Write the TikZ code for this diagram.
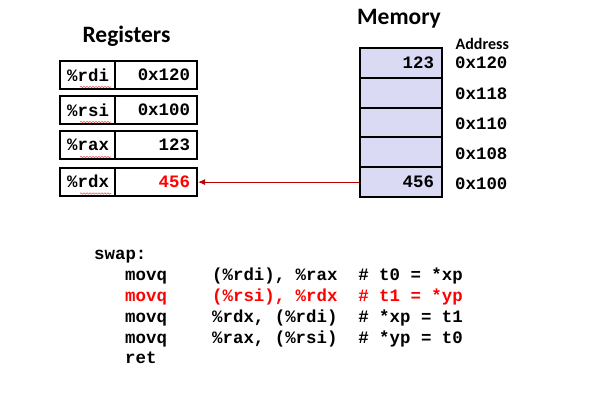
\documentclass[tikz,border=0pt]{standalone}
\usepackage{fontspec}
\setmainfont{Carlito}
\newfontfamily\cour{Liberation Mono}
\usetikzlibrary{arrows.meta,decorations.pathmorphing}
\definecolor{memfill}{RGB}{218,218,244}
\definecolor{arrowred}{RGB}{192,0,0}
\definecolor{squig}{RGB}{235,90,90}
\tikzset{
  codefont/.style={font=\cour\bfseries\fontsize{17.4}{20}\selectfont},
  regname/.style={draw, line width=2pt, minimum height=28pt, text width=43pt, inner xsep=6pt, inner ysep=0pt, align=right, codefont},
  regval/.style={draw, line width=2pt, minimum height=28pt, text width=68pt, inner xsep=7pt, inner ysep=0pt, align=right, codefont},
  memcell/.style={draw, line width=2pt, fill=memfill, minimum height=29.8pt, text width=66pt, inner xsep=8pt, inner ysep=0pt, align=right, codefont},
  addr/.style={anchor=west, inner sep=0pt, codefont},
  codeline/.style={anchor=base west, inner sep=0pt, codefont},
  heading/.style={font=\bfseries\fontsize{23.5}{28}\selectfont, inner sep=0pt},
  link/.style={arrowred, line width=1pt, -{Latex[length=7pt,width=6pt]}},
  spell/.style={squig, line width=0.6pt, decorate, decoration={snake, amplitude=0.7pt, segment length=3pt}}
}
\begin{document}
\begin{tikzpicture}[x=1pt,y=-1pt]
\useasboundingbox (0,0) rectangle (589,405);
% headings
\node[heading] (hreg) at (126.5,36) {Registers};
\node[heading] (hmem) at (399,19) {Memory};
\node[font=\bfseries\fontsize{16}{18}\selectfont, anchor=west, inner sep=0pt] (haddr) at (455.5,43.5) {Address};
% registers
\node[regname] (n1) at (87.5,75) {\%rdi};
\node[regval]  (v1) at (156,75) {0x120};
\node[regname] (n2) at (87.5,110) {\%rsi};
\node[regval]  (v2) at (156,110) {0x100};
\node[regname] (n3) at (87.5,145) {\%rax};
\node[regval]  (v3) at (156,145) {123};
\node[regname] (n4) at (87.5,181.5) {\%rdx};
\node[regval, text=red]  (v4) at (156,181.5) {456};
% spell-check squiggles
\foreach \n in {n1,n2,n3,n4}{
  \draw[spell] ([xshift=-36pt,yshift=3pt]\n.south east) -- ([xshift=-5pt,yshift=3pt]\n.south east);
}
% memory
\node[memcell] (m1) at (401,62.9)  {123};
\node[memcell] (m2) at (401,92.7)  {};
\node[memcell] (m3) at (401,122.5) {};
\node[memcell] (m4) at (401,152.3) {};
\node[memcell] (m5) at (401,182.1) {456};
% addresses
\node[addr] (a1) at (455,63) {0x120};
\node[addr] (a2) at (455,93.5) {0x118};
\node[addr] (a3) at (455,124) {0x110};
\node[addr] (a4) at (455,154) {0x108};
\node[addr] (a5) at (455,184) {0x100};
% arrow
\draw[link] (m5.west) -- (m5.west -| v4.east);
% code
\node[codeline] (c0) at (94,259) {swap:};
\node[codeline] (c1a) at (125,280) {movq};
\node[codeline] (c1b) at (212,280) {(\%rdi), \%rax\ \ \# t0 = *xp};
\node[codeline, text=red] (c2a) at (125,301) {movq};
\node[codeline, text=red] (c2b) at (212,301) {(\%rsi), \%rdx\ \ \# t1 = *yp};
\node[codeline] (c3a) at (125,322) {movq};
\node[codeline] (c3b) at (212,322) {\%rdx, (\%rdi)\ \ \# *xp = t1};
\node[codeline] (c4a) at (125,343) {movq};
\node[codeline] (c4b) at (212,343) {\%rax, (\%rsi)\ \ \# *yp = t0};
\node[codeline] (c5) at (125,363) {ret};
\end{tikzpicture}
\end{document}
